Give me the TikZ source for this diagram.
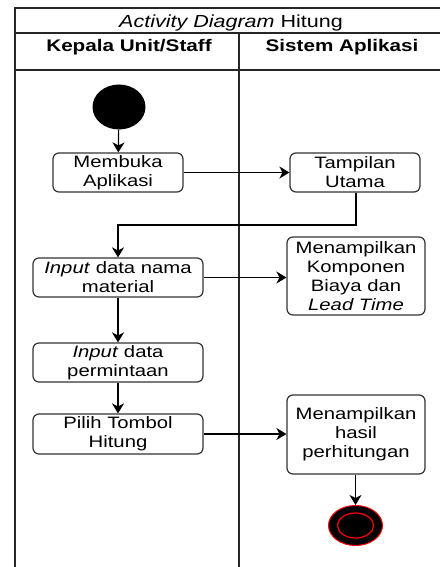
\documentclass[tikz,border=0pt]{standalone}
\usepackage{fontspec}
\setmainfont{Liberation Sans}[FakeStretch=1.23]
\usetikzlibrary{shapes.geometric}
\usetikzlibrary{arrows.meta}

\tikzset{
  act/.style={draw=black!80, line width=1.2pt, rounded corners=6pt, align=center, inner sep=0pt, font=\fontsize{16.5}{19}\selectfont},
  flow/.style={-{Stealth[length=10pt, width=12pt, inset=3pt]}, line width=1.2pt},
  lane/.style={line width=1.5pt, draw=black!85},
}

\begin{document}
\begin{tikzpicture}[x=1pt, y=-1pt]
    \useasboundingbox (0,0) rectangle (440,567);

    % swimlanes
    \draw[lane] (440,8) -- (15,8) -- (15,567);
    \draw[lane] (15,33) -- (440,33);
    \draw[lane] (15,70) -- (440,70);
    \draw[lane] (239,33) -- (239,567);
    \node[anchor=base, font=\fontsize{17.5}{20}\selectfont] (title) at (231,27.5) {\textit{Activity Diagram} Hitung};
    \node[anchor=base, font=\bfseries\fontsize{16.8}{20}\selectfont] (lanea) at (129,52) {Kepala Unit/Staff};
    \node[anchor=base, font=\bfseries\fontsize{16.8}{20}\selectfont] (laneb) at (342,52) {Sistem Aplikasi};

    % activities
    \node[ellipse, fill=black, minimum width=53pt, minimum height=45pt, inner sep=0pt] (start) at (119,107) {};
    \node[act, minimum width=130pt, minimum height=39pt] (buka) at (118,172.5) {Membuka\\Aplikasi};
    \node[act, minimum width=130pt, minimum height=39pt] (utama) at (355,172.5) {Tampilan\\Utama};
    \node[act, minimum width=170pt, minimum height=39pt] (material) at (118,277.5) {\textit{Input} data nama\\material};
    \node[act, minimum width=138pt, minimum height=78pt] (komponen) at (356,276) {Menampilkan\\Komponen\\Biaya dan\\\textit{Lead Time}};
    \node[act, minimum width=170pt, minimum height=39pt] (minta) at (118,362.5) {\textit{Input} data\\permintaan};
    \node[act, minimum width=170pt, minimum height=40pt] (pilih) at (118,434) {Pilih Tombol\\Hitung};
    \node[act, minimum width=138pt, minimum height=79pt] (hasil) at (356,434.5) {Menampilkan\\hasil\\perhitungan};
    \node[ellipse, fill=black, draw=red, line width=1pt, minimum width=54pt, minimum height=40pt, inner sep=0pt] (stop) at (355.5,525.5) {};
    \node[ellipse, draw=red, line width=1.2pt, minimum width=36pt, minimum height=25pt, inner sep=0pt] (stopin) at (stop.center) {};

    \coordinate (belok) at (356,225);

    % flows
    \draw[flow] (start) -- (buka);
    \draw[flow] (buka) -- (utama);
    \draw[flow] (utama.south -| belok) -- (belok) -| (material.north);
    \draw[flow] (material) -- (komponen.west |- material);
    \draw[flow] (material) -- (minta);
    \draw[flow] (minta) -- (pilih);
    \draw[flow] (pilih) -- (hasil.west |- pilih);
    \draw[flow] (hasil.south -| stop) -- (stop);
\end{tikzpicture}
\end{document}
